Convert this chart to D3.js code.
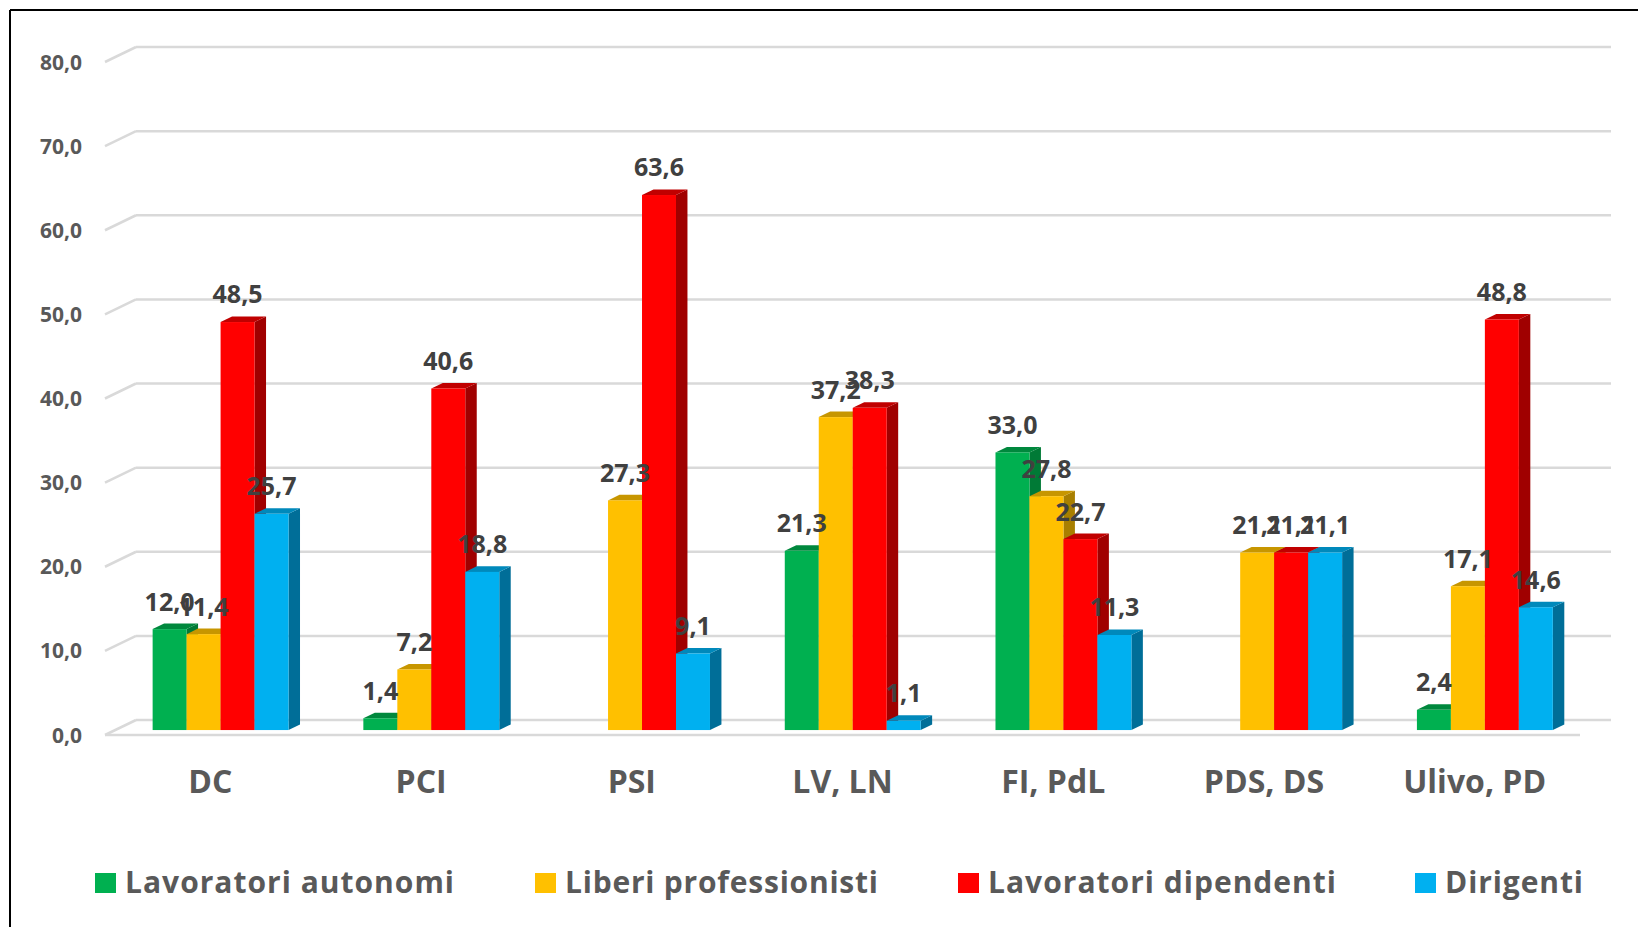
<!DOCTYPE html>
<html>
<head>
<meta charset="utf-8">
<script src="https://cdn.jsdelivr.net/npm/d3@7"></script>
<style>
  html, body { margin: 0; padding: 0; background: #fff; }
  svg { display: block; font-family: "Open Sans", "DejaVu Sans", sans-serif; }
</style>
</head>
<body>
<svg id="chart" width="1638" height="927"></svg>
<script>
// dati
const categories = ["DC", "PCI", "PSI", "LV, LN", "FI, PdL", "PDS, DS", "Ulivo, PD"];
const seriesNames = ["Lavoratori autonomi", "Liberi professionisti", "Lavoratori dipendenti", "Dirigenti"];
const autonomi     = [12.0, 1.4, null, 21.3, 33.0, null, 2.4];
const professionisti = [11.4, 7.2, 27.3, 37.2, 27.8, 21.1, 17.1];
const dipendenti   = [48.5, 40.6, 63.6, 38.3, 22.7, 21.1, 48.8];
const dirigenti    = [25.7, 18.8, 9.1, 1.1, 11.3, 21.1, 14.6];
const yTicks = [0, 10, 20, 30, 40, 50, 60, 70, 80];

const seriesValues = [autonomi, professionisti, dipendenti, dirigenti];

// colori: faccia frontale, faccia superiore, fianco
const faceColors = ["#00B050", "#FFC000", "#FF0000", "#00B0F0"];
const topColors  = ["#00883D", "#C79600", "#C00000", "#0089BB"];
const sideColors = ["#007A36", "#A87F00", "#A00000", "#006E98"];

const svg = d3.select("#chart");

// bordo (solo sinistra e sopra visibili)
svg.append("line").attr("x1", 10).attr("y1", 10).attr("x2", 1638).attr("y2", 10)
  .attr("stroke", "#000").attr("stroke-width", 2);
svg.append("line").attr("x1", 10).attr("y1", 10).attr("x2", 10).attr("y2", 927)
  .attr("stroke", "#000").attr("stroke-width", 2);

// prospettiva 3D: profondità piena
const DX = 31, DY = -15;
const x0 = 105, x1 = 1580;

const xScale = d3.scaleBand().domain(categories).range([x0, x1]).paddingInner(0).paddingOuter(0);
const yFront = d3.scaleLinear().domain([0, 80]).range([735, 62]);

// profondità delle barre (frazione della profondità totale)
const zFront = 0.33, zBack = 0.70;

// griglia: linea di fondo + diagonale sulla parete sinistra
const grid = svg.append("g");
yTicks.forEach(v => {
  const yf = yFront(v);
  grid.append("line")
    .attr("x1", x0).attr("y1", yf).attr("x2", x0 + DX).attr("y2", yf + DY)
    .attr("stroke", "#D9D9D9").attr("stroke-width", 2.5);
  grid.append("line")
    .attr("x1", x0 + DX).attr("y1", yf + DY).attr("x2", x1 + DX).attr("y2", yf + DY)
    .attr("stroke", "#D9D9D9").attr("stroke-width", 2.5);
});
// bordo anteriore del pavimento
grid.append("line")
  .attr("x1", x0).attr("y1", yFront(0)).attr("x2", x1).attr("y2", yFront(0))
  .attr("stroke", "#D9D9D9").attr("stroke-width", 2.5);

// etichette asse Y
svg.append("g").selectAll("text")
  .data(yTicks)
  .enter().append("text")
  .attr("x", 82)
  .attr("y", d => yFront(d) + 7.5)
  .attr("text-anchor", "end")
  .attr("font-size", 21)
  .attr("font-weight", "bold")
  .attr("fill", "#595959")
  .text(d => d3.format(".1f")(d).replace(".", ","));

// larghezza barre
const groupW = xScale.bandwidth() * 0.645;
const barW = groupW / 4;

const bars = svg.append("g");
const labels = [];

categories.forEach((cat, ci) => {
  const gx = xScale(cat) + (xScale.bandwidth() - groupW) / 2;
  seriesValues.forEach((vals, si) => {
    const v = vals[ci];
    if (v == null) return;
    const fx = gx + si * barW + zFront * DX;
    const fyB = yFront(0) + zFront * DY;
    const fyT = yFront(v) + zFront * DY;
    const ddx = (zBack - zFront) * DX, ddy = (zBack - zFront) * DY;

    // fianco destro
    bars.append("path")
      .attr("d", `M${fx + barW},${fyT} L${fx + barW + ddx},${fyT + ddy} L${fx + barW + ddx},${fyB + ddy} L${fx + barW},${fyB} Z`)
      .attr("fill", sideColors[si]);
    // faccia superiore
    bars.append("path")
      .attr("d", `M${fx},${fyT} L${fx + ddx},${fyT + ddy} L${fx + barW + ddx},${fyT + ddy} L${fx + barW},${fyT} Z`)
      .attr("fill", topColors[si]);
    // faccia frontale
    bars.append("rect")
      .attr("x", fx).attr("y", fyT)
      .attr("width", barW).attr("height", fyB - fyT)
      .attr("fill", faceColors[si]);

    labels.push({ x: fx + barW / 2, y: fyT + ddy - 13, v });
  });
});

// etichette dati (sovrapposte come nell'originale)
svg.append("g").selectAll("text")
  .data(labels)
  .enter().append("text")
  .attr("x", d => d.x)
  .attr("y", d => d.y)
  .attr("text-anchor", "middle")
  .attr("font-size", 25)
  .attr("font-weight", "bold")
  .attr("fill", "#404040")
  .text(d => d3.format(".1f")(d.v).replace(".", ","));

// etichette categorie
svg.append("g").selectAll("text")
  .data(categories)
  .enter().append("text")
  .attr("x", d => xScale(d) + xScale.bandwidth() / 2)
  .attr("y", 793)
  .attr("text-anchor", "middle")
  .attr("font-size", 32)
  .attr("font-weight", "bold")
  .attr("fill", "#595959")
  .text(d => d);

// legenda
const legendX = [95, 535, 958, 1415];
const legendW = [329, 313, 348, 138];
const legend = svg.append("g");
seriesNames.forEach((name, i) => {
  legend.append("rect")
    .attr("x", legendX[i]).attr("y", 873)
    .attr("width", 21).attr("height", 20)
    .attr("fill", faceColors[i]);
  legend.append("text")
    .attr("x", legendX[i] + 30).attr("y", 893)
    .attr("font-size", 30)
    .attr("font-weight", "bold")
    .attr("fill", "#595959")
    .attr("textLength", legendW[i])
    .attr("lengthAdjust", "spacing")
    .text(name);
});
</script>
</body>
</html>
